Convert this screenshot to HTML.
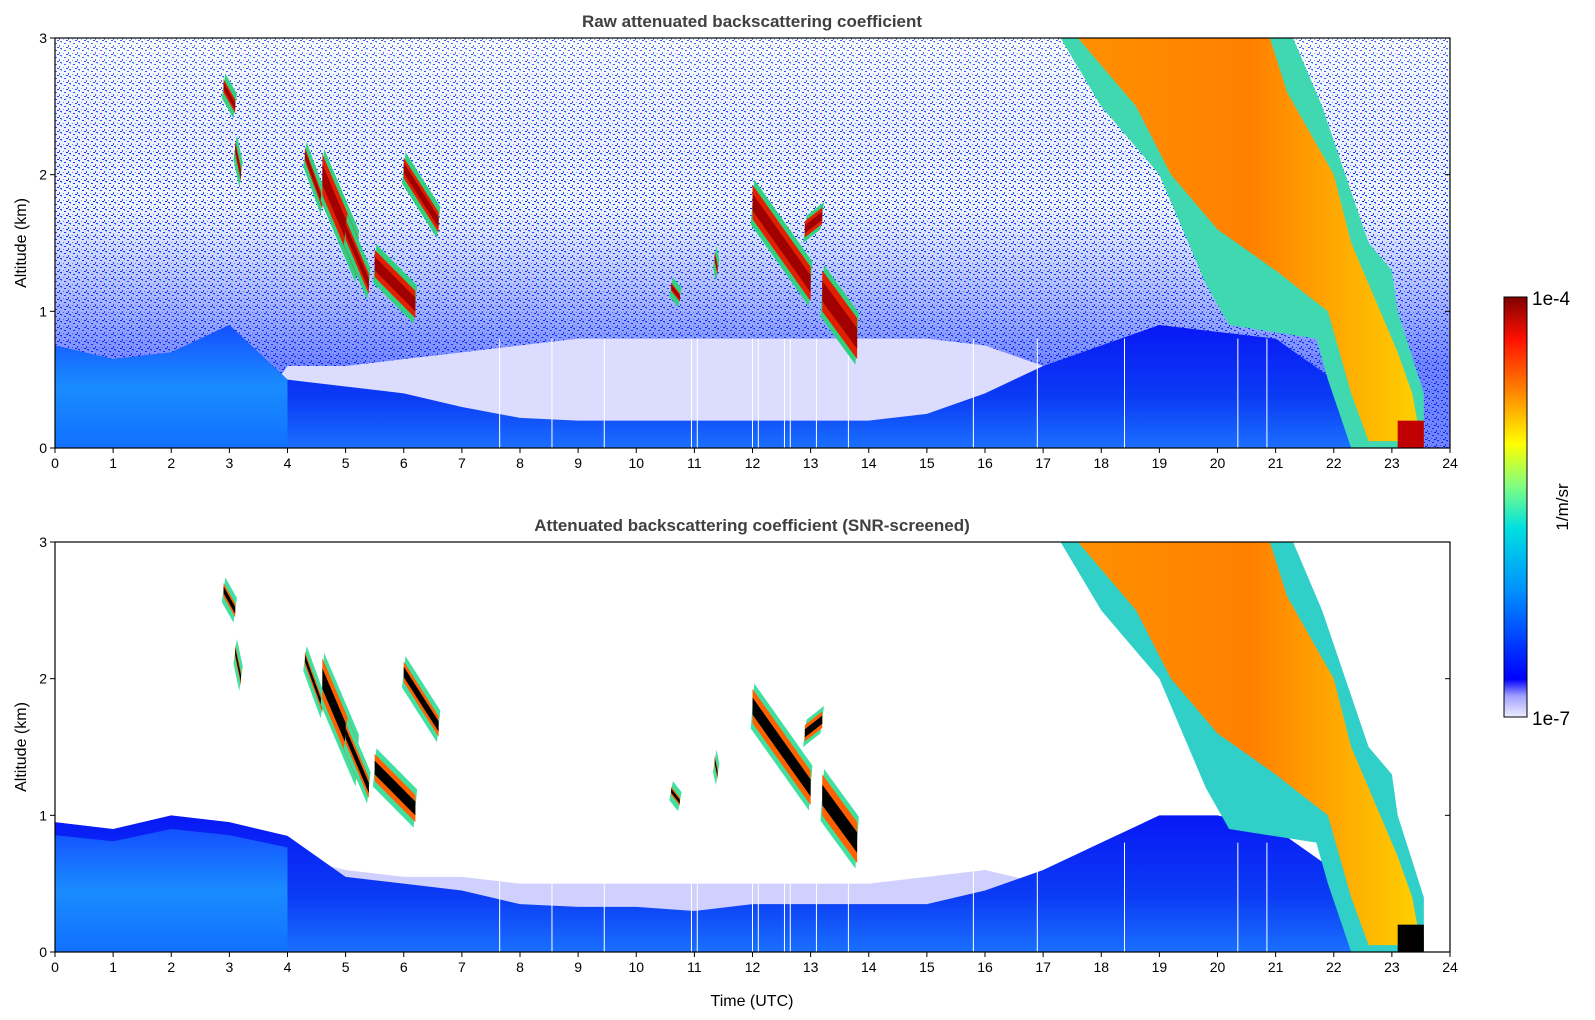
<!DOCTYPE html>
<html><head><meta charset="utf-8"><style>
html,body{margin:0;padding:0;background:#fff;}
svg{display:block;font-family:"Liberation Sans","DejaVu Sans",sans-serif;}
</style></head><body>
<svg id="chart" width="1595" height="1020" viewBox="0 0 1595 1020">
<defs>
<pattern id="speck" width="9" height="7" patternUnits="userSpaceOnUse">
<rect width="9" height="7" fill="#fff"/>
<rect x="1" y="1" width="2" height="1" fill="#1030ff"/><rect x="5" y="3" width="1" height="2" fill="#2050ff"/>
<rect x="7" y="0" width="1" height="1" fill="#30c0ff"/><rect x="3" y="5" width="2" height="1" fill="#0a20f0"/>
<rect x="0" y="4" width="1" height="1" fill="#6090ff"/><rect x="6" y="6" width="2" height="1" fill="#1540ff"/>
</pattern>
<linearGradient id="blueHaze" x1="0" y1="0" x2="0" y2="1">
<stop offset="0" stop-color="#fff" stop-opacity="0.25"/><stop offset="0.4" stop-color="#2040ff" stop-opacity="0.05"/><stop offset="0.6" stop-color="#1030ff" stop-opacity="0.3"/><stop offset="0.8" stop-color="#0020ff" stop-opacity="0.55"/><stop offset="1" stop-color="#0020ff" stop-opacity="0.55"/>
</linearGradient>
<linearGradient id="blBlue" x1="0" y1="0" x2="0" y2="1"><stop offset="0" stop-color="#0818f5"/><stop offset="0.6" stop-color="#0b3cf5"/><stop offset="1" stop-color="#1a70ff"/></linearGradient>
<linearGradient id="blLight" x1="0" y1="0" x2="0" y2="1"><stop offset="0" stop-color="#1450ff"/><stop offset="0.5" stop-color="#1a8cff"/><stop offset="1" stop-color="#1070ff"/></linearGradient>
<linearGradient id="cloudInner" x1="0" y1="0" x2="1" y2="0"><stop offset="0" stop-color="#ff9000"/><stop offset="0.5" stop-color="#ff8000"/><stop offset="0.8" stop-color="#ffb000"/><stop offset="1" stop-color="#ffd000"/></linearGradient>
<linearGradient id="cbar" x1="0" y1="1" x2="0" y2="0">
<stop offset="0" stop-color="#eeeeff"/><stop offset="0.05" stop-color="#a0a0ff"/><stop offset="0.09" stop-color="#0000ff"/>
<stop offset="0.3" stop-color="#0090ff"/><stop offset="0.45" stop-color="#00e0e0"/><stop offset="0.55" stop-color="#80ff80"/>
<stop offset="0.65" stop-color="#ffff00"/><stop offset="0.78" stop-color="#ff8000"/><stop offset="0.9" stop-color="#ff1000"/><stop offset="1" stop-color="#800000"/>
</linearGradient>
<clipPath id="clipTop"><rect x="55" y="38" width="1395" height="410"/></clipPath>
<clipPath id="clipBot"><rect x="55" y="542" width="1395" height="410"/></clipPath>
</defs>
<g id="top" clip-path="url(#clipTop)"></g>
<g id="bot" clip-path="url(#clipBot)"></g>
<g id="axes"></g>
<text x="752" y="27" text-anchor="middle" font-size="17" font-weight="bold" fill="#404040">Raw attenuated backscattering coefficient</text>
<text x="752" y="531" text-anchor="middle" font-size="17" font-weight="bold" fill="#404040">Attenuated backscattering coefficient (SNR-screened)</text>
<text transform="translate(26,243) rotate(-90)" text-anchor="middle" font-size="16" fill="#000">Altitude (km)</text>
<text transform="translate(26,747) rotate(-90)" text-anchor="middle" font-size="16" fill="#000">Altitude (km)</text>
<text x="752" y="1006" text-anchor="middle" font-size="16" fill="#000">Time (UTC)</text>
<rect x="1504" y="297" width="23" height="420" fill="url(#cbar)" stroke="#000" stroke-width="1"/>
<text x="1532" y="305" font-size="19" fill="#000">1e-4</text>
<text x="1532" y="725" font-size="19" fill="#000">1e-7</text>
<text transform="translate(1568,507) rotate(-90)" text-anchor="middle" font-size="17" fill="#000">1/m/sr</text>
</svg>
<script>
const hours = [0,1,2,3,4,5,6,7,8,9,10,11,12,13,14,15,16,17,18,19,20,21,22,23,23.55];
const blTopRaw = [0.75,0.65,0.7,0.9,0.5,0.45,0.4,0.3,0.22,0.2,0.2,0.2,0.2,0.2,0.2,0.25,0.4,0.6,0.75,0.9,0.85,0.8,0.5,0.3,0.2];
const blTopScr = [0.95,0.9,1.0,0.95,0.85,0.55,0.5,0.45,0.35,0.33,0.33,0.3,0.35,0.35,0.35,0.35,0.45,0.6,0.8,1.0,1.0,0.9,0.6,0.4,0.1];
const lavTopRaw = [0,0,0,0,0.6,0.6,0.65,0.7,0.75,0.8,0.8,0.8,0.8,0.8,0.8,0.8,0.75,0.6,0,0,0,0,0,0,0];
const lavTop = [0,0,0,0,0.7,0.6,0.55,0.55,0.5,0.5,0.5,0.5,0.5,0.5,0.5,0.55,0.6,0.5,0.8,1.0,0.9,0.75,0.55,0.3,0.1];
const gapTimes = [7.65,8.55,9.45,10.95,11.05,12.0,12.1,12.55,12.65,13.1,13.65,15.8,16.9,18.4,20.35,20.85];
const cloudT0 = [2.9,3.1,4.3,4.6,5.0,5.5,6.0,12.0,12.9,13.2,10.6,11.35];
const cloudH0 = [2.65,2.2,2.15,2.0,1.6,1.35,2.05,1.8,1.6,1.15,1.18,1.4];
const cloudT1 = [3.1,3.2,4.6,5.2,5.4,6.2,6.6,13.0,13.2,13.8,10.75,11.4];
const cloudH1 = [2.5,2.0,1.8,1.4,1.2,1.05,1.65,1.2,1.7,0.8,1.1,1.3];
const cloudThk = [0.1,0.1,0.1,0.3,0.15,0.2,0.15,0.25,0.12,0.3,0.06,0.08];
const bigOuterT = [17.3,18.0,19.0,19.5,19.8,20.2,21.7,21.9,22.3,23.55,23.55,23.4,23.1,23.0,22.6,21.8,21.3];
const bigOuterH = [3,2.5,2.0,1.5,1.2,0.9,0.8,0.5,0,0,0.4,0.6,1.0,1.3,1.5,2.5,3];
const bigInnerT = [17.6,18.6,19.2,20.0,21.0,21.9,22.3,22.6,23.5,23.35,23.1,22.8,22.3,22.0,21.2,20.9];
const bigInnerH = [3,2.5,2.0,1.6,1.3,1.0,0.4,0.05,0.05,0.4,0.7,1.0,1.5,2.0,2.6,3];
const xTicks = [0,1,2,3,4,5,6,7,8,9,10,11,12,13,14,15,16,17,18,19,20,21,22,23,24];
const yTicks = [0,1,2,3];

const NS="http://www.w3.org/2000/svg";
const X0=55,X1=1450;
const xs=t=>X0+t*(X1-X0)/24;
const panels={top:{b:448,t:38},bot:{b:952,t:542}};
function ys(p,h){const P=panels[p];return P.b-h*(P.b-P.t)/3;}
function mk(tag,attrs,parent){const e=document.createElementNS(NS,tag);for(const k in attrs)e.setAttribute(k,attrs[k]);parent.appendChild(e);return e;}
function area(p,arr,fill,parent){let pts=[xs(hours[0])+','+ys(p,0)];hours.forEach((t,i)=>pts.push(xs(t)+','+ys(p,arr[i])));pts.push(xs(hours[hours.length-1])+','+ys(p,0));return mk('polygon',{points:pts.join(' '),fill:fill},parent);}
function poly(p,T,H,fill,parent){return mk('polygon',{points:T.map((t,i)=>xs(t)+','+ys(p,H[i])).join(' '),fill:fill},parent);}

['top','bot'].forEach(p=>{
  const g=document.getElementById(p);
  if(p==='top'){
    const s=mk('rect',{x:55,y:38,width:1395,height:410,fill:'url(#speck)'},g);
    
    
    const f=mk('rect',{x:55,y:38,width:1395,height:410,fill:'url(#blueHaze)'},g);
    
    
    const lav=area(p,lavTopRaw,'#dcdcff',g);
    
    
    const bl=area(p,blTopRaw,'url(#blBlue)',g);
    
    
  } else {
    const lav=area(p,lavTop,'#d0d0ff',g);
    
    
    const bl=area(p,blTopScr,'url(#blBlue)',g);
    
    
  }
  const arr=p==='top'?blTopRaw:blTopScr;
  const lt=[0,0.5,1,1.5,2,2.5,3,3.5,4];
  const lh=lt.map(t=>{const i=Math.min(Math.floor(t),23);return (arr[i]+(arr[i+1]-arr[i])*(t-i))*(p==='top'?1.0:0.9);});
  const lp=mk('polygon',{points:[xs(0)+','+ys(p,0)].concat(lt.map((t,i)=>xs(t)+','+ys(p,lh[i]))).concat([xs(4)+','+ys(p,0)]).join(' '),fill:'url(#blLight)'},g);
  
  
  gapTimes.forEach(t=>{
    const l=mk('line',{x1:xs(t),x2:xs(t),y1:ys(p,0),y2:ys(p,0.8),stroke:'#fff','stroke-width':1},g);
    
    
  });
  const bo=poly(p,bigOuterT,bigOuterH,p==='top'?'#40d8b0':'#30d0c8',g);
  
  
  const bi=poly(p,bigInnerT,bigInnerH,'url(#cloudInner)',g);
  
  
  const dr=mk('rect',{x:xs(23.1),y:ys(p,0.2),width:xs(23.55)-xs(23.1),height:ys(p,0)-ys(p,0.2),fill:p==='top'?'#c00000':'#000'},g);
  
  
  cloudT0.forEach((t0,i)=>{
    const h0=cloudH0[i],t1=cloudT1[i],h1=cloudH1[i],th=cloudThk[i];
    const T=[t0,t1,t1,t0],H=[h0+th/2,h1+th/2,h1-th/2,h0-th/2];
    const o=poly(p,T.map((t,k)=>t+(k<2?0.03:-0.03)),H.map((h,k)=>h+(k<2?0.04:-0.04)),p==='top'?'#30d080':'#40e0a0',g);
    
    
    const c=poly(p,T,H,p==='top'?'#e02000':'#ff6000',g);
    
    
    const k=poly(p,T,H.map((h,k)=>k<2?h-th*0.25:h+th*0.25),p==='top'?'#a00000':'#000',g);
    
    
  });
});

const ax=document.getElementById('axes');
['top','bot'].forEach(p=>{
  const P=panels[p];
  const fr=mk('rect',{x:X0,y:P.t,width:X1-X0,height:P.b-P.t,fill:'none',stroke:'#000','stroke-width':1.2},ax);
  
  
  xTicks.forEach(t=>{
    const l=mk('line',{x1:xs(t),x2:xs(t),y1:P.b,y2:P.b+5,stroke:'#000'},ax);
    
    
    const tx=mk('text',{x:xs(t),y:P.b+20,'text-anchor':'middle','font-size':14},ax);
    tx.textContent=t;
    
    
  });
  yTicks.forEach(h=>{
    const l=mk('line',{x1:X0-5,x2:X0,y1:ys(p,h),y2:ys(p,h),stroke:'#000'},ax);
    
    
    const r=mk('line',{x1:X1-5,x2:X1,y1:ys(p,h),y2:ys(p,h),stroke:'#000'},ax);
    
    
    const tx=mk('text',{x:X0-8,y:ys(p,h)+5,'text-anchor':'end','font-size':14},ax);
    tx.textContent=h;
    
    
  });
});
</script>
</body></html>
